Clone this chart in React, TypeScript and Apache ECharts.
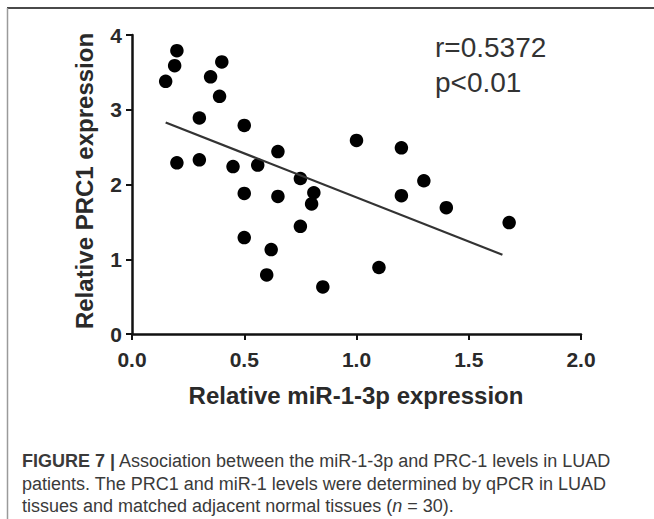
import React, { useEffect, useRef } from "react";
import * as echarts from "echarts";

const xValues = [0.15, 0.19, 0.2, 0.35, 0.4, 0.39, 0.3, 0.5, 0.2, 0.3, 0.45, 0.56, 0.65, 0.75, 1.0, 1.2, 1.3, 1.2, 0.5, 0.65, 0.81, 0.8, 0.75, 0.5, 0.62, 0.6, 0.85, 1.4, 1.68, 1.1];
const yValues = [3.38, 3.59, 3.79, 3.44, 3.64, 3.18, 2.89, 2.79, 2.29, 2.33, 2.24, 2.26, 2.44, 2.08, 2.59, 2.49, 2.05, 1.85, 1.88, 1.84, 1.89, 1.74, 1.44, 1.29, 1.13, 0.79, 0.63, 1.69, 1.49, 0.89];
const fitX = [0.15, 1.65];
const fitY = [2.83, 1.06];
const statLines = ["r=0.5372", "p<0.01"];
const xTitle = "Relative miR-1-3p expression";
const yTitle = "Relative PRC1 expression";
const captionLines = [
  "{b|FIGURE 7 |} Association between the miR-1-3p and PRC-1 levels in LUAD",
  "patients. The PRC1 and miR-1 levels were determined by qPCR in LUAD",
  "tissues and matched adjacent normal tissues ({i|n} = 30).",
];

export default function App() {
  const ref = useRef<HTMLDivElement>(null);
  useEffect(() => {
    if (!ref.current) return;
    const chart = echarts.init(ref.current, null, { renderer: "svg" });
    const axisFont = "'Liberation Sans', Arial, sans-serif";
    const capFont = "'Liberation Sans', Arial, sans-serif";
    const capSize = 18;
    chart.setOption({
      animation: false,
      backgroundColor: "#ffffff",
      grid: { left: 132, right: 73, top: 35, bottom: 185 },
      xAxis: {
        type: "value",
        min: 0,
        max: 2,
        interval: 0.5,
        splitLine: { show: false },
        axisLine: { show: true, lineStyle: { color: "#111", width: 2.5 } },
        axisTick: { show: true, length: 6, lineStyle: { color: "#111", width: 2 } },
        axisLabel: {
          margin: 15,
          fontSize: 21,
          fontWeight: "bold",
          color: "#2a2a2a",
          fontFamily: axisFont,
          formatter: (v: number) => v.toFixed(1),
        },
      },
      yAxis: {
        type: "value",
        min: 0,
        max: 4,
        interval: 1,
        splitLine: { show: false },
        axisLine: { show: true, lineStyle: { color: "#111", width: 2.5 } },
        axisTick: { show: true, length: 6, lineStyle: { color: "#111", width: 2 } },
        axisLabel: {
          margin: 10,
          fontSize: 21,
          fontWeight: "bold",
          color: "#2a2a2a",
          fontFamily: axisFont,
        },
      },
      series: [
        {
          type: "scatter",
          symbol: "circle",
          symbolSize: 13.5,
          itemStyle: { color: "#000", opacity: 1 },
          data: xValues.map((x, i) => [x, yValues[i]]),
        },
        {
          type: "line",
          symbol: "none",
          lineStyle: { color: "#333", width: 2.2 },
          data: fitX.map((x, i) => [x, fitY[i]]),
        },
      ],
      graphic: [
        { type: "line", shape: { x1: 7, y1: 8, x2: 654, y2: 8 }, style: { stroke: "#4a4a4a", lineWidth: 2 } },
        { type: "line", shape: { x1: 7.5, y1: 8, x2: 7.5, y2: 519 }, style: { stroke: "#9a9a9a", lineWidth: 1.5 } },
        {
          type: "text",
          x: 435,
          y: 47,
          style: { text: statLines[0], fontSize: 28, fill: "#333", fontFamily: axisFont, verticalAlign: "middle" },
        },
        {
          type: "text",
          x: 435,
          y: 82,
          style: { text: statLines[1], fontSize: 28, fill: "#333", fontFamily: axisFont, verticalAlign: "middle" },
        },
        {
          type: "text",
          x: 356,
          y: 395,
          style: {
            text: xTitle,
            fontSize: 24,
            fontWeight: "bold",
            fill: "#2a2a2a",
            fontFamily: axisFont,
            align: "center",
            verticalAlign: "middle",
          },
        },
        {
          type: "text",
          x: 84,
          y: 181,
          rotation: Math.PI / 2,
          style: {
            text: yTitle,
            fontSize: 24,
            fontWeight: "bold",
            fill: "#2a2a2a",
            fontFamily: axisFont,
            align: "center",
            verticalAlign: "middle",
          },
        },
        ...captionLines.map((t, i) => ({
          type: "text",
          x: 22,
          y: 461 + i * 22.5,
          style: {
            text: t,
            fontSize: capSize,
            fill: "#3a3a3a",
            fontFamily: capFont,
            verticalAlign: "middle",
            rich: {
              b: { fontSize: capSize, fontWeight: "bold", fill: "#3a3a3a", fontFamily: capFont },
              i: { fontSize: capSize, fontStyle: "italic", fill: "#3a3a3a", fontFamily: capFont },
            },
          },
        })),
      ],
    });
    return () => chart.dispose();
  }, []);
  return <div ref={ref} style={{ position: "absolute", left: 0, top: 0, width: 654, height: 519 }} />;
}
